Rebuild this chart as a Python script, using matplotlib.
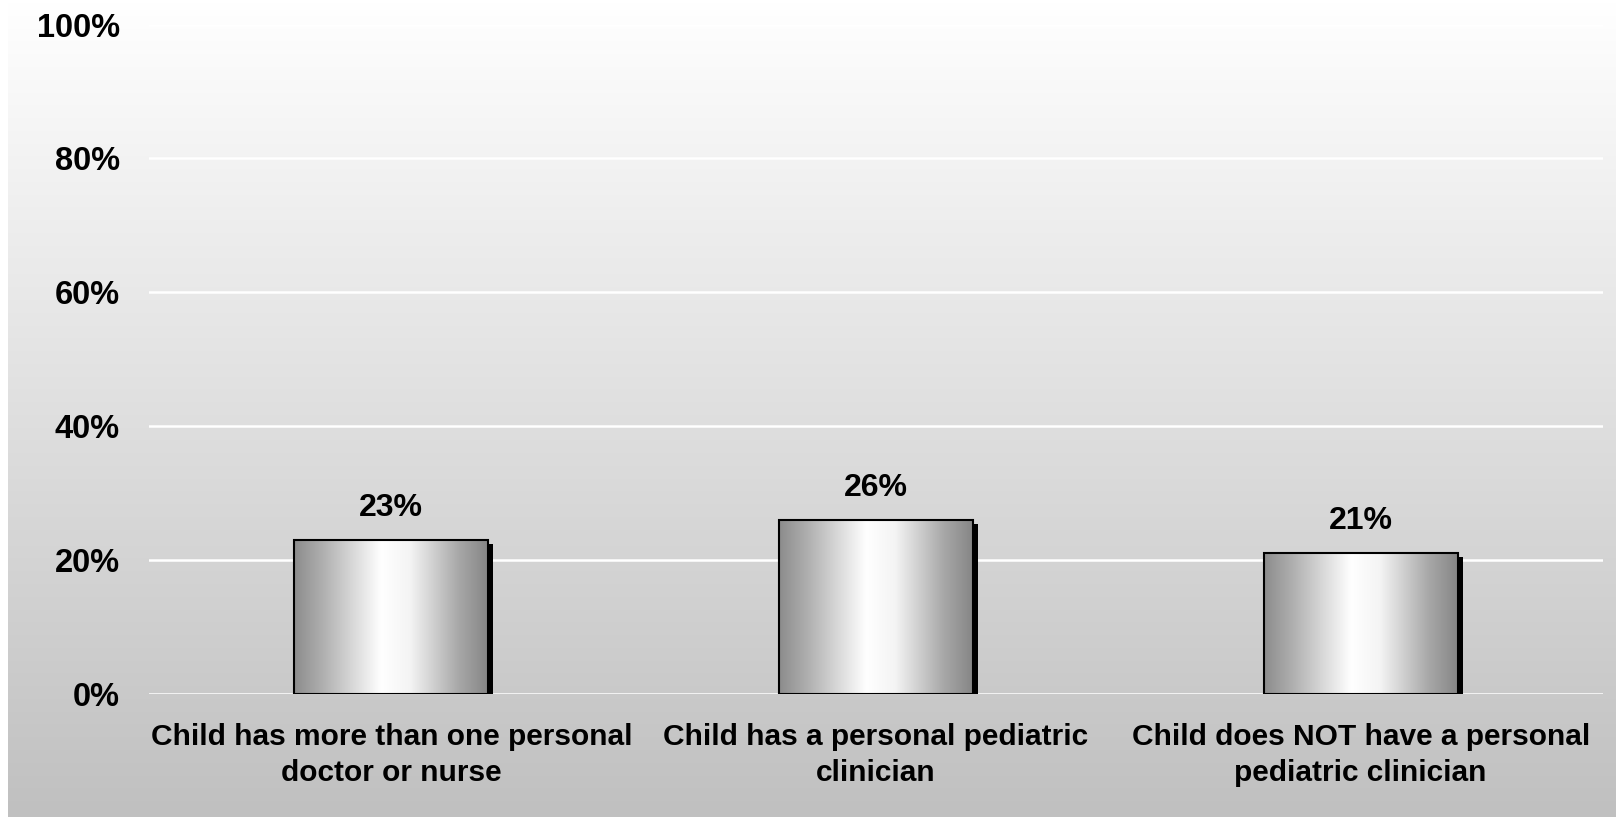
import matplotlib.pyplot as plt
import matplotlib.transforms as mtransforms
import numpy as np

categories = ["Child has more than one personal\ndoctor or nurse",
              "Child has a personal pediatric\nclinician",
              "Child does NOT have a personal\npediatric clinician"]
values = [23, 26, 21]
yticks = [0, 20, 40, 60, 80, 100]

plt.rcParams['font.family'] = ['Liberation Sans', 'DejaVu Sans']
plt.rcParams['font.weight'] = 'bold'

fig = plt.figure(figsize=(16.16, 8.17), dpi=100)

# figure background: vertical gradient white -> grey
bg = fig.add_axes([0.005, 0, 0.995, 1], zorder=-10)
grad = np.linspace(1.0, 0.0, 256).reshape(-1, 1)
bg.imshow(grad, aspect='auto', cmap=plt.cm.colors.LinearSegmentedColormap.from_list(
    'bg', ['#c0c0c0', '#ffffff']), extent=[0, 1, 0, 1])
bg.axis('off')

ax = fig.add_axes([149/1616, 1-693.6/817, 1454/1616, 669/817])
ax.patch.set_alpha(0)
ax.set_xlim(-0.5, 2.5)
ax.set_ylim(0, 100)

for y in yticks:
    ax.axhline(y, color='white', lw=1.8, zorder=1)

# horizontal gradient inside the bars
bar_cmap = plt.cm.colors.LinearSegmentedColormap.from_list(
    'bar', [(0, '#8c8c8c'), (0.15, '#b0b0b0'), (0.45, '#ffffff'),
            (0.6, '#f4f4f4'), (0.85, '#a8a8a8'), (1, '#868686')])
hgrad = np.linspace(0, 1, 256).reshape(1, -1)
w = 0.4
shadow = mtransforms.offset_copy(ax.transData, fig=fig, x=5, y=-4, units='dots')
for i, v in enumerate(values):
    ax.bar(i, v, width=w, color='black', transform=shadow, zorder=2)
    ax.imshow(hgrad, aspect='auto', cmap=bar_cmap,
              extent=[i - w/2, i + w/2, 0, v], zorder=3)
    ax.bar(i, v, width=w, facecolor='none', edgecolor='black', lw=1.5, zorder=4)
    ax.text(i, v + 2.5, f"{v}%", ha='center', va='bottom', fontsize=23,
            fontweight='bold')

ax.set_xlim(-0.5, 2.5)
ax.set_ylim(0, 100)
ax.set_xticks(range(len(categories)))
ax.set_xticklabels(categories, fontsize=21.5, fontweight='bold', linespacing=1.35)
ax.set_yticks(yticks)
ax.set_yticklabels([f"{t}%" for t in yticks], fontsize=23.5, fontweight='bold')
ax.tick_params(length=0, pad=21, axis='y')
ax.tick_params(length=0, pad=21.5, axis='x')
for s in ax.spines.values():
    s.set_visible(False)

fig.savefig('out.png', dpi=100)
